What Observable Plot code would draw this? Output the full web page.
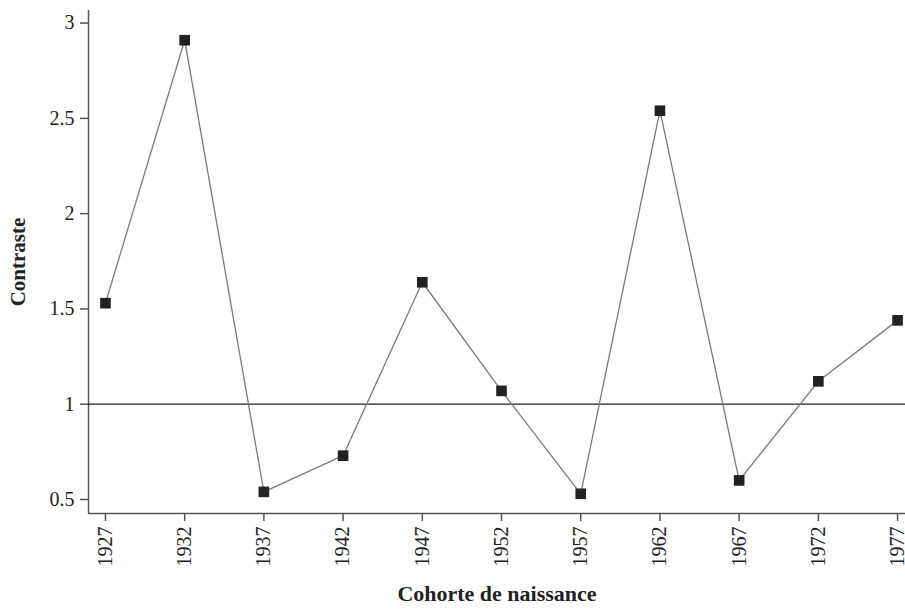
<!DOCTYPE html>
<html>
<head>
<meta charset="utf-8">
<script src="https://cdn.jsdelivr.net/npm/d3@7"></script>
<script src="https://cdn.jsdelivr.net/npm/@observablehq/plot@0.6"></script>
<style>
  body { margin: 0; background: #fff; }
  #chart svg { display: block; }
</style>
</head>
<body>
<div id="chart"></div>
<script>
const years = [1927, 1932, 1937, 1942, 1947, 1952, 1957, 1962, 1967, 1972, 1977];
const contraste = [1.53, 2.91, 0.54, 0.73, 1.64, 1.07, 0.53, 2.54, 0.60, 1.12, 1.44];
const yTicks = [0.5, 1, 1.5, 2, 2.5, 3];
const yTickLabels = ["0.5", "1", "1.5", "2", "2.5", "3"];
const referenceLine = [1];
const xLabel = "Cohorte de naissance";
const yLabel = "Contraste";

const data = years.map((y, i) => ({year: y, value: contraste[i]}));
const xDomain = [1925.93, 1977.5];
const yDomain = [0.4265, 3.066];

const chart = Plot.plot({
  width: 905,
  height: 615,
  marginLeft: 88,
  marginRight: 0,
  marginTop: 10,
  marginBottom: 102,
  style: {fontFamily: "'Liberation Serif', 'DejaVu Serif', serif", fontSize: "20px", color: "#222", background: "#fff"},
  x: {domain: xDomain, ticks: years, tickFormat: d => String(d)},
  y: {domain: yDomain, ticks: yTicks, tickFormat: d => yTickLabels[yTicks.indexOf(d)]},
  marks: [
    Plot.axisX({ticks: years, tickFormat: d => String(d), tickRotate: -90, tickSize: 8, tickPadding: 5, label: null, stroke: "#555", strokeWidth: 1.5, fontSize: 20, fill: "#222"}),
    Plot.axisY({ticks: yTicks, tickFormat: d => yTickLabels[yTicks.indexOf(d)], tickSize: 8, tickPadding: 6, label: null, stroke: "#555", strokeWidth: 1.5, fontSize: 20, fill: "#222"}),
    Plot.ruleX([xDomain[0]], {stroke: "#555", strokeWidth: 1.5}),
    Plot.ruleY([yDomain[0]], {stroke: "#555", strokeWidth: 1.5}),
    Plot.ruleY(referenceLine, {stroke: "#222", strokeWidth: 1.3}),
    Plot.line(data, {x: "year", y: "value", stroke: "#7a7a7a", strokeWidth: 1.3}),
    Plot.dot(data, {x: "year", y: "value", symbol: "square", r: 6, fill: "#222", stroke: "none"}),
    Plot.text([yLabel], {frameAnchor: "left", textAnchor: "middle", rotate: -90, dx: -70, fontWeight: "bold", fontSize: 21, fill: "#222"}),
    Plot.text([xLabel], {frameAnchor: "bottom", textAnchor: "middle", dy: 87, fontWeight: "bold", fontSize: 22, fill: "#222"})
  ]
});
document.getElementById("chart").appendChild(chart);
</script>
</body>
</html>
